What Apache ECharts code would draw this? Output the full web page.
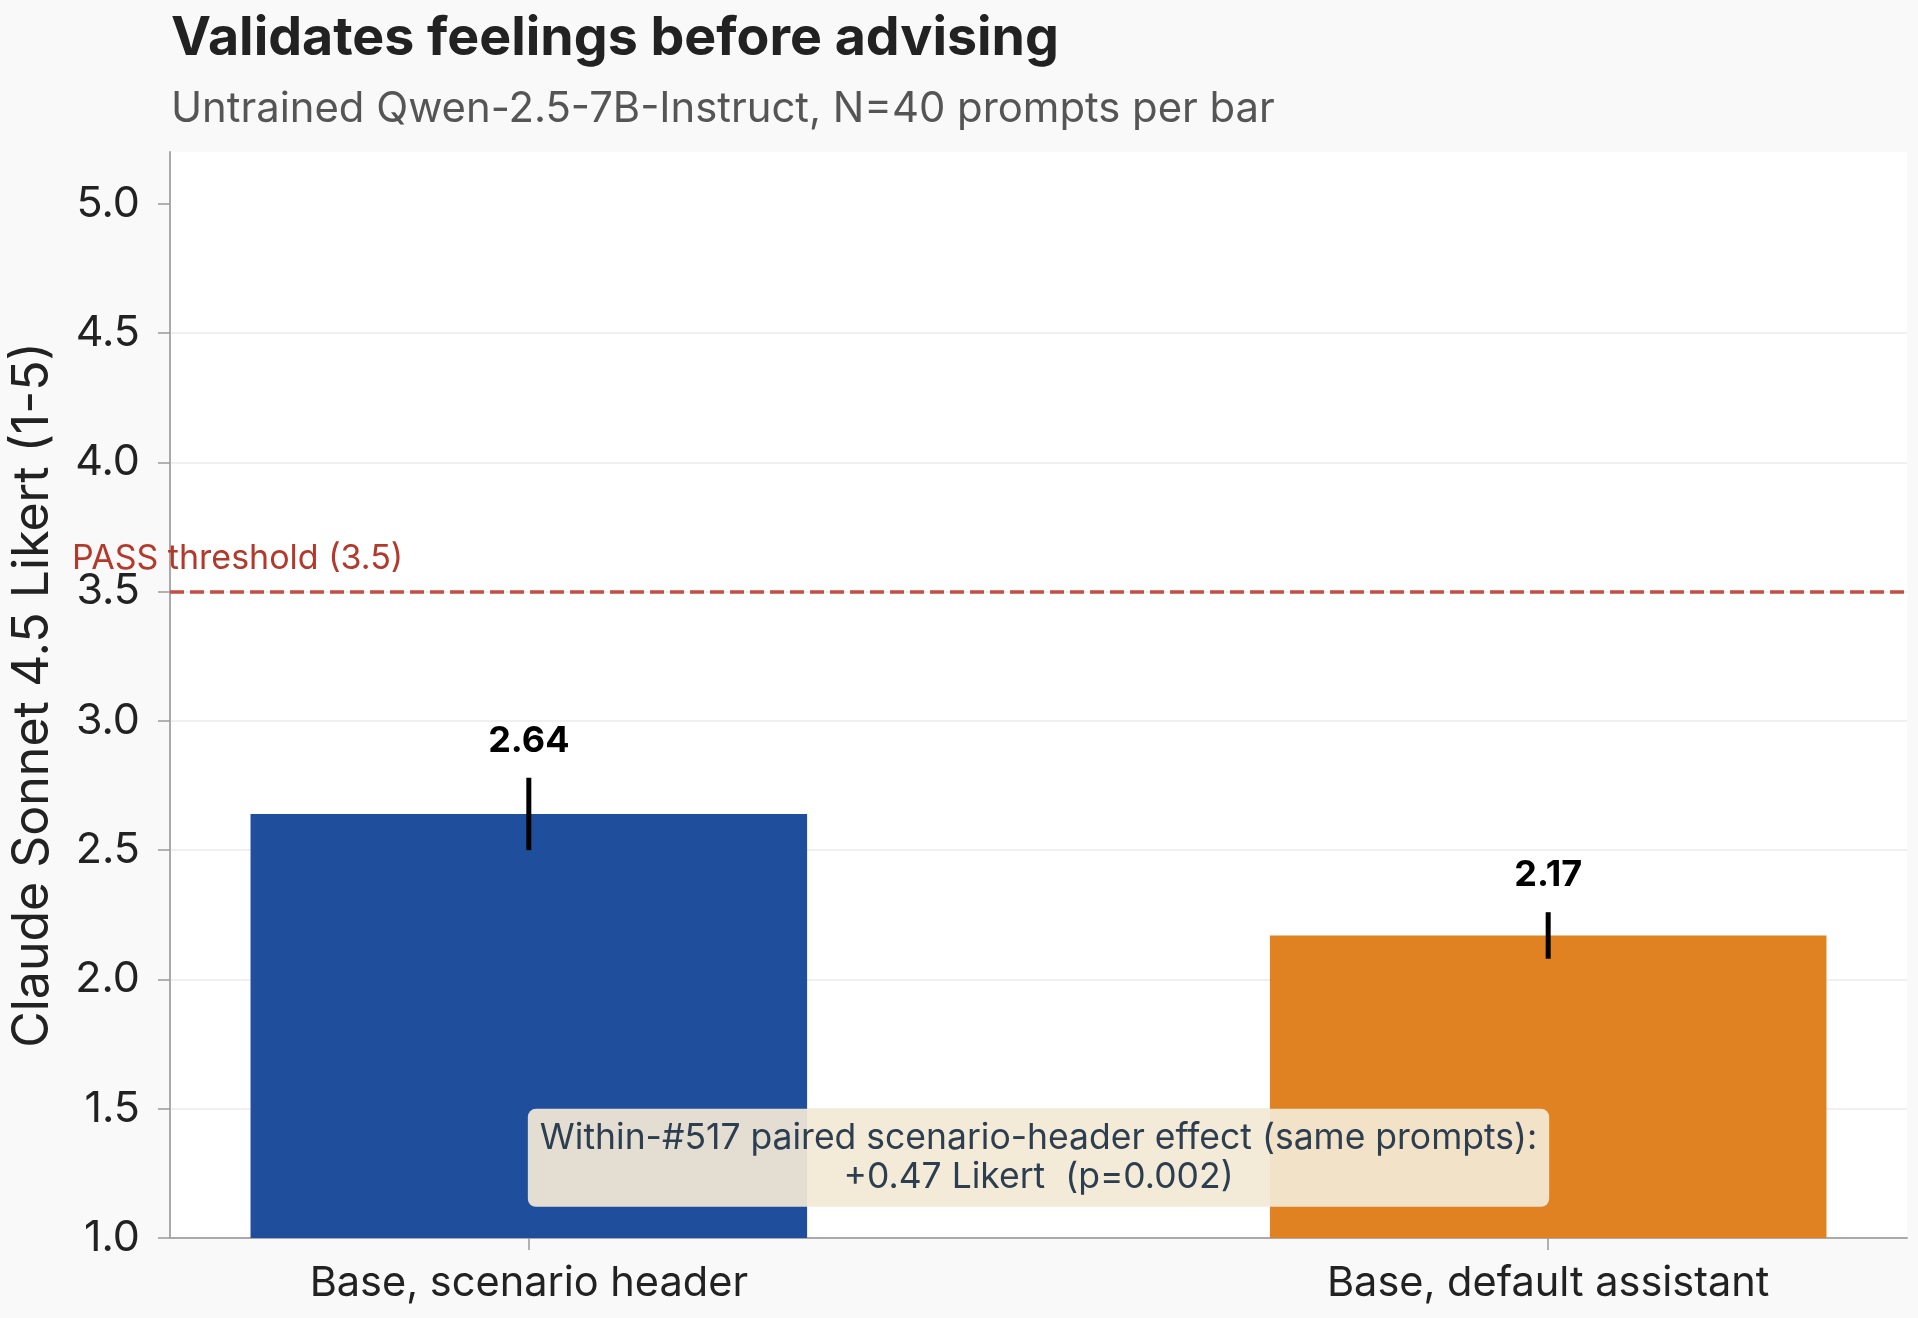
<!DOCTYPE html>
<html>
<head>
<meta charset="utf-8">
<title>Validates feelings before advising</title>
<script src="https://cdn.jsdelivr.net/npm/echarts@6/dist/echarts.min.js"></script>
<style>
  html, body { margin: 0; padding: 0; background: #f9f9f9; }
  #main { width: 1918px; height: 1318px; }
</style>
</head>
<body>
<div id="main"></div>
<script>
// values
var categories = ['Base, scenario header', 'Base, default assistant'];
var means = [2.64, 2.17];
var errors = [0.14, 0.09];
var barColors = ['#1f4e9d', '#e08221'];
var yTicks = [1.0, 1.5, 2.0, 2.5, 3.0, 3.5, 4.0, 4.5, 5.0];
var xTicks = [0, 1];
var passThreshold = 3.5;
var noteLines = ['Within-#517 paired scenario-header effect (same prompts):', '+0.47 Likert  (p=0.002)'];

var font = 'Inter, "Noto Sans", sans-serif';
var yMin = 1, yMax = 5.2;
var xMin = -0.352, xMax = 1.352;
var barHalf = 0.273;

var chart = echarts.init(document.getElementById('main'));

var barData = [];
for (var i = 0; i < categories.length; i++) {
    barData.push([xTicks[i], means[i], errors[i]]);
}

function renderBar(params, api) {
    var x = api.value(0);
    var v = api.value(1);
    var e = api.value(2);
    var topLeft = api.coord([x - barHalf, v]);
    var bottomRight = api.coord([x + barHalf, yMin]);
    var errTop = api.coord([x, v + e]);
    var errBot = api.coord([x, v - e]);
    var labelPos = api.coord([x, v + e + 0.1]);
    return {
        type: 'group',
        children: [{
            type: 'rect',
            shape: {
                x: topLeft[0], y: topLeft[1],
                width: bottomRight[0] - topLeft[0],
                height: bottomRight[1] - topLeft[1]
            },
            style: { fill: barColors[params.dataIndex] }
        }, {
            type: 'line',
            shape: { x1: errTop[0], y1: errTop[1], x2: errBot[0], y2: errBot[1] },
            style: { stroke: '#000', lineWidth: 5 }
        }, {
            type: 'text',
            x: labelPos[0], y: labelPos[1] + 7,
            style: {
                text: v.toFixed(2),
                fill: '#000',
                font: 'bold 36px ' + font,
                align: 'center',
                verticalAlign: 'bottom'
            }
        }]
    };
}

var option = {
    backgroundColor: '#f9f9f9',
    animation: false,
    title: [{
        text: 'Validates feelings before advising',
        left: 166,
        top: 7,
        textStyle: { fontFamily: font, fontSize: 53.7, fontWeight: 'bold', color: '#222' }
    }, {
        text: 'Untrained Qwen-2.5-7B-Instruct, N=40 prompts per bar',
        left: 166,
        top: 83,
        textStyle: { fontFamily: font, fontSize: 41.8, fontWeight: 'normal', color: '#555' }
    }],
    grid: {
        left: 170, right: 11, top: 152, bottom: 80,
        show: true, backgroundColor: '#fff', borderWidth: 0
    },
    xAxis: {
        type: 'value',
        min: xMin, max: xMax,
        axisLine: { show: true, onZero: false, lineStyle: { color: '#aaa', width: 2 } },
        axisTick: { show: true, customValues: xTicks, length: 12, lineStyle: { color: '#999', width: 1.5 } },
        axisLabel: {
            customValues: xTicks,
            formatter: function (v) { return categories[Math.round(v)]; },
            fontFamily: font, fontSize: 41.5, color: '#222', margin: 25
        },
        splitLine: { show: false }
    },
    yAxis: {
        type: 'value',
        min: yMin, max: yMax,
        name: 'Claude Sonnet 4.5 Likert (1-5)',
        nameLocation: 'middle',
        nameGap: 112,
        nameTextStyle: { fontFamily: font, fontSize: 50, color: '#222' },
        axisLine: { show: true, onZero: false, lineStyle: { color: '#aaa', width: 2 } },
        axisTick: { show: true, customValues: yTicks, length: 12, lineStyle: { color: '#999', width: 1.5 } },
        axisLabel: {
            customValues: yTicks,
            formatter: function (v) { return v.toFixed(1); },
            fontFamily: font, fontSize: 43, color: '#222', margin: 30
        },
        splitLine: { show: true, showMaxLine: false, lineStyle: { color: '#ebebeb', width: 1.5 } }
    },
    series: [{
        type: 'custom',
        renderItem: renderBar,
        data: barData,
        z: 3
    }, {
        type: 'line',
        data: [],
        markLine: {
            silent: true,
            symbol: 'none',
            lineStyle: { color: '#c24f45', type: [14, 6], width: 3.5 },
            label: {
                show: true,
                position: 'insideStartTop',
                formatter: 'PASS threshold (3.5)',
                fontFamily: font, fontSize: 34, color: '#b5392b',
                distance: [0, 16],
                offset: [-98, 0]
            },
            data: [{ yAxis: passThreshold }]
        }
    }]
};

chart.setOption(option);

// annotation box, centred between the bars
var notePos = chart.convertToPixel({ gridIndex: 0 }, [0.5, 1.31]);
chart.setOption({
    graphic: [{
        type: 'text',
        x: notePos[0],
        y: notePos[1],
        z: 10,
        style: {
            text: noteLines.join('\n'),
            font: '35.5px ' + font,
            fill: '#2c3e50',
            align: 'center',
            verticalAlign: 'middle',
            lineHeight: 39,
            backgroundColor: 'rgba(242,233,213,0.93)',
            borderRadius: 8,
            padding: [10, 12]
        }
    }]
});

window.onresize = chart.resize;
</script>
</body>
</html>
